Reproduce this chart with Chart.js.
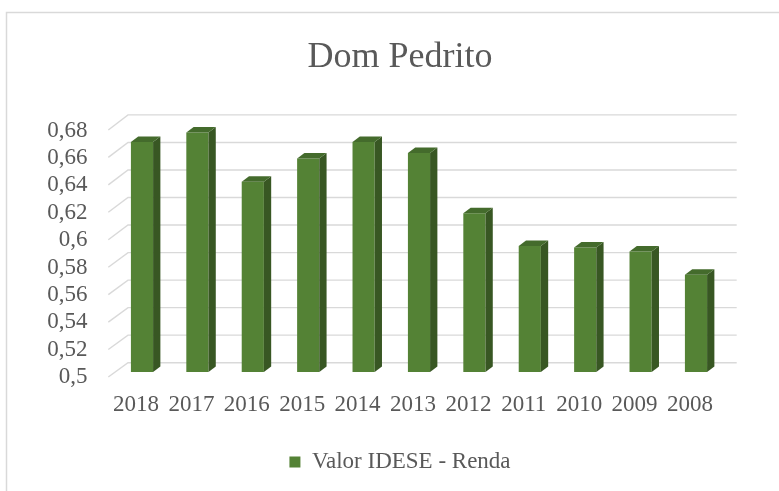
<!DOCTYPE html>
<html>
<head>
<meta charset="utf-8">
<script src="https://cdn.jsdelivr.net/npm/chart.js@4"></script>
<style>
html,body{margin:0;padding:0;background:#fff;overflow:hidden}
#wrap{width:779px;height:491px;position:relative}
</style>
</head>
<body>
<div id="wrap"><canvas id="c" width="779" height="491"></canvas></div>
<script>
const chartTitle = 'Dom Pedrito';
const seriesName = 'Valor IDESE - Renda';
const categories = ['2018','2017','2016','2015','2014','2013','2012','2011','2010','2009','2008'];
const seriesValues = [0.668,0.675,0.639,0.656,0.668,0.660,0.616,0.592,0.591,0.588,0.571];
const yTickLabels = ['0,5','0,52','0,54','0,56','0,58','0,6','0,62','0,64','0,66','0,68'];
const yMin = 0.5, yMax = 0.68, yStep = 0.02;

const FONT = 'Liberation Serif';
const TEXT = '#595959';
const FRONT = '#548235', SIDE = '#385723', TOP = '#446b2c';

const framePlugin = {
  id: 'frame',
  beforeDraw(chart) {
    const ctx = chart.ctx;
    ctx.save();
    ctx.fillStyle = '#fff';
    ctx.fillRect(0, 0, chart.width, chart.height);
    ctx.strokeStyle = '#d9d9d9';
    ctx.lineWidth = 1.5;
    ctx.beginPath();
    ctx.moveTo(6.5, chart.height + 10);
    ctx.lineTo(6.5, 12.5);
    ctx.lineTo(chart.width + 10, 12.5);
    ctx.stroke();
    ctx.restore();
  }
};

const wallPlugin = {
  id: 'wall',
  beforeDatasetsDraw(chart) {
    const {ctx, chartArea: a, scales: {y}} = chart;
    const base = y.getPixelForValue(yMin);
    ctx.save();
    ctx.strokeStyle = '#d9d9d9';
    ctx.lineWidth = 1.4;
    y.ticks.forEach(t => {
      const p = y.getPixelForValue(t.value);
      const fy = base + 5 + (p - base) * 1.003;
      const by = base - 9.3 + (p - base) * 1.006;
      ctx.beginPath();
      ctx.moveTo(a.left - 6, fy);
      ctx.lineTo(a.left + 13.7, by);
      ctx.lineTo(a.right + 13, by);
      ctx.stroke();
    });
    ctx.restore();
  }
};

const bar3dPlugin = {
  id: 'bar3d',
  afterDatasetsDraw(chart) {
    const ctx = chart.ctx;
    const meta = chart.getDatasetMeta(0);
    const floor = chart.scales.y.getPixelForValue(yMin);
    const dx = 7.3, dy = 5.6;
    ctx.save();
    meta.data.forEach(bar => {
      const {x, y, width} = bar.getProps(['x', 'y', 'width'], true);
      const base = floor;
      const l = x - width / 2, r = x + width / 2;
      ctx.fillStyle = SIDE;
      ctx.beginPath();
      ctx.moveTo(r, y); ctx.lineTo(r + dx, y - dy); ctx.lineTo(r + dx, base - dy); ctx.lineTo(r, base);
      ctx.closePath(); ctx.fill();
      ctx.fillStyle = TOP;
      ctx.beginPath();
      ctx.moveTo(l, y); ctx.lineTo(l + dx, y - dy); ctx.lineTo(r + dx, y - dy); ctx.lineTo(r, y);
      ctx.closePath(); ctx.fill();
    });
    ctx.restore();
  }
};

new Chart(document.getElementById('c'), {
  type: 'bar',
  data: {
    labels: categories,
    datasets: [{
      label: seriesName,
      data: seriesValues,
      backgroundColor: FRONT,
      borderWidth: 0,
      barPercentage: 0.4,
      categoryPercentage: 1
    }]
  },
  plugins: [framePlugin, wallPlugin, bar3dPlugin],
  options: {
    responsive: false,
    animation: false,
    layout: { padding: { top: 0, left: 21, right: 0, bottom: 7.5 } },
    plugins: {
      tooltip: { enabled: false },
      title: {
        display: true,
        text: chartTitle,
        color: TEXT,
        font: { family: FONT, size: 36, weight: 'normal', lineHeight: 1.2 },
        padding: { top: 36.2, bottom: 46.3 }
      },
      legend: {
        position: 'bottom',
        labels: {
          color: TEXT,
          font: { family: FONT, size: 23 },
          boxWidth: 11,
          boxHeight: 11,
          padding: 31.7
        }
      }
    },
    scales: {
      x: {
        grid: { display: false, drawTicks: false },
        border: { display: false },
        ticks: {
          color: TEXT,
          font: { family: FONT, size: 23, lineHeight: 1.2 },
          padding: 19.2,
          labelOffset: -6,
          autoSkip: false,
          maxRotation: 0
        },
        afterFit(scale) { scale.height = 46.8; }
      },
      y: {
        position: 'left',
        min: yMin,
        max: yMax,
        grid: { display: false, drawTicks: false },
        border: { display: false },
        ticks: {
          stepSize: yStep,
          color: TEXT,
          font: { family: FONT, size: 23, lineHeight: 1.0 },
          padding: 26.8,
          labelOffset: 5,
          autoSkip: false,
          callback: (v, i) => yTickLabels[i]
        },
        afterFit(scale) { scale.width = 93.3; }
      },
      yRight: {
        position: 'right',
        min: yMin,
        max: yMax,
        grid: { display: false, drawTicks: false },
        border: { display: false },
        ticks: { display: false },
        afterFit(scale) { scale.width = 55.3; }
      }
    }
  }
});
</script>
</body>
</html>
